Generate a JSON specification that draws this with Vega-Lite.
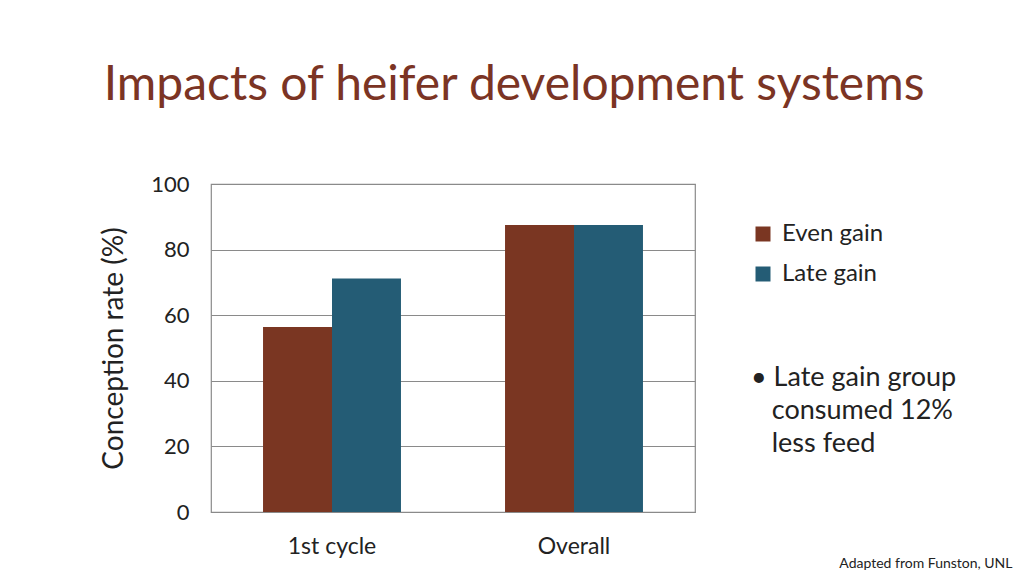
{
  "$schema": "https://vega.github.io/schema/vega-lite/v6.json",
  "width": 484,
  "height": 328,
  "autosize": {"type": "none"},
  "padding": {"left": 211, "top": 184, "right": 329, "bottom": 65},
  "background": "white",
  "title": {
    "text": "Impacts of heifer development systems",
    "anchor": "start",
    "frame": "bounds",
    "font": "Lato",
    "fontSize": 48,
    "fontWeight": "normal",
    "color": "#7B3424",
    "baseline": "alphabetic",
    "offset": 25,
    "dx": 3
  },
  "data": {
    "values": [
      {"cycle": "1st cycle", "group": "Even gain", "rate": 56.4},
      {"cycle": "1st cycle", "group": "Late gain", "rate": 71.2},
      {"cycle": "Overall", "group": "Even gain", "rate": 87.5},
      {"cycle": "Overall", "group": "Late gain", "rate": 87.5}
    ]
  },
  "mark": {"type": "bar"},
  "encoding": {
    "x": {
      "field": "cycle",
      "type": "nominal",
      "sort": ["1st cycle", "Overall"],
      "scale": {"paddingInner": 0.43, "paddingOuter": 0.215},
      "axis": {
        "title": "Adapted from Funston, UNL",
        "titleX": 801,
        "titleY": 55,
        "titleAlign": "right",
        "titleAnchor": null,
        "titleBaseline": "alphabetic",
        "titleFont": "Lato",
        "titleFontSize": 14,
        "titleFontWeight": "normal",
        "titleColor": "#222",
        "labelAngle": 0,
        "labelFont": "Lato",
        "labelFontSize": 23,
        "labelColor": "#222",
        "labelPadding": 23,
        "ticks": false,
        "domain": false
      }
    },
    "xOffset": {"field": "group", "type": "nominal", "scale": {"paddingInner": 0, "paddingOuter": 0}},
    "y": {
      "field": "rate",
      "type": "quantitative",
      "scale": {"domain": [0, 100]},
      "axis": {
        "title": "Conception rate (%)",
        "values": [0, 20, 40, 60, 80, 100],
        "titleFont": "Lato",
        "titleFontSize": 28,
        "titleFontWeight": "normal",
        "titleColor": "#222",
        "titlePadding": 22,
        "labelFont": "Lato",
        "labelFontSize": 22,
        "labelColor": "#222",
        "labelPadding": 22,
        "ticks": false,
        "domain": false,
        "grid": true,
        "gridColor": "#8a8a8a",
        "gridWidth": 1.2,
        "gridOpacity": 1
      }
    },
    "color": {
      "field": "group",
      "type": "nominal",
      "scale": {"domain": ["Even gain", "Late gain"], "range": ["#7A3622", "#245C75"]},
      "legend": {
        "orient": "none",
        "legendX": 540,
        "legendY": 38,
        "title": ["\u2022 Late gain group", "\u200b\u00a0\u00a0\u00a0consumed 12%", "\u200b\u00a0\u00a0\u00a0less feed"],
        "titleOrient": "bottom",
        "titleAnchor": "start",
        "titleAlign": "left",
        "titlePadding": 79,
        "titleFont": "Lato",
        "titleFontSize": 27,
        "titleFontWeight": "normal",
        "titleColor": "#222",
        "titleLineHeight": 33,
        "titleLimit": 400,
        "symbolType": "square",
        "symbolSize": 225,
        "symbolStrokeWidth": 0,
        "symbolOpacity": 1,
        "labelFont": "Lato",
        "labelFontSize": 24,
        "labelColor": "#222",
        "labelOffset": 7,
        "rowPadding": 16
      }
    }
  },
  "config": {
    "view": {"stroke": "#8a8a8a", "strokeWidth": 1.2}
  }
}
